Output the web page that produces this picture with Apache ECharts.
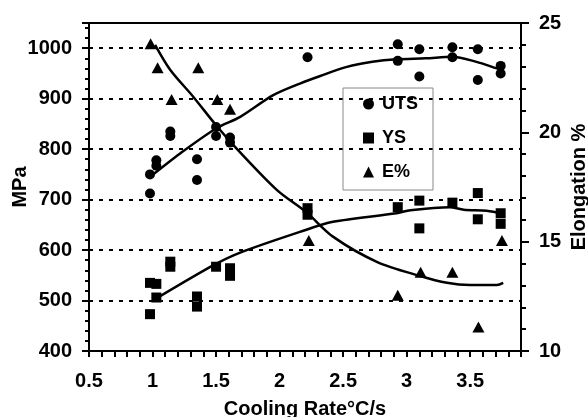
<!DOCTYPE html>
<html>
<head>
<meta charset="utf-8">
<script src="https://cdn.jsdelivr.net/npm/echarts@6/dist/echarts.min.js"></script>
<style>
html,body{margin:0;padding:0;background:#fff;}
#chart{width:588px;height:417px;}
</style>
</head>
<body>
<div id="chart"></div>
<script>
// Scatter data (cooling rate °C/s vs property)
var utsX = [0.98, 0.98, 1.03, 1.03, 1.14, 1.14, 1.35, 1.35, 1.50, 1.50, 1.61, 1.61, 2.22, 2.93, 2.93, 3.10, 3.10, 3.36, 3.36, 3.56, 3.56, 3.74, 3.74];
var utsY = [712, 750, 778, 767, 835, 826, 780, 739, 844, 826, 823, 813, 982, 1008, 975, 998, 944, 1002, 982, 998, 937, 965, 950];

var ysX = [0.98, 0.98, 1.03, 1.03, 1.14, 1.14, 1.35, 1.35, 1.50, 1.61, 1.61, 2.22, 2.22, 2.93, 3.10, 3.10, 3.36, 3.56, 3.56, 3.74, 3.74];
var ysY = [535, 473, 533, 506, 577, 567, 508, 488, 567, 564, 549, 683, 670, 685, 698, 643, 694, 713, 661, 673, 652];

var eX = [0.985, 1.04, 1.36, 1.15, 1.51, 1.61, 2.23, 2.93, 3.11, 3.36, 3.565, 3.75];
var eY = [24.05, 22.95, 22.95, 21.5, 21.5, 21.05, 15.05, 12.55, 13.6, 13.6, 11.1, 15.05];

// Fitted trend curves
var utsFitX = [0.98, 1.22, 1.50, 1.69, 1.95, 2.16, 2.32, 2.53, 2.73, 2.92, 3.15, 3.36, 3.55, 3.71, 3.75];
var utsFitY = [745, 792, 841, 864, 907, 930, 945, 963, 973, 978, 980, 983, 973, 960, 957];

var ysFitX = [1.03, 1.48, 1.69, 2.16, 2.42, 2.92, 3.03, 3.34, 3.45, 3.63, 3.76];
var ysFitY = [504, 570, 595, 636, 656, 673, 679, 685, 680, 678, 672];

var eFitX = [1.02, 1.14, 1.32, 1.505, 1.66, 1.98, 2.21, 2.42, 2.765, 3.106, 3.317, 3.5, 3.71, 3.76];
var eFitY = [24.0, 22.85, 21.63, 20.29, 19.27, 17.36, 16.35, 15.23, 14.08, 13.43, 13.12, 13.02, 13.02, 13.12];

// Axis labels
var xName = 'Cooling Rate°C/s';
var yLeftName = 'MPa';
var yRightName = 'Elongation %';
var legendNames = ['UTS', 'YS', 'E%'];

function pairs(xs, ys) { return xs.map(function (x, i) { return [x, ys[i]]; }); }

var FONT = '"Liberation Sans", Arial, sans-serif';
var labelStyle = { color: '#000', fontWeight: 'bold', fontSize: 20, fontFamily: FONT };

var chart = echarts.init(document.getElementById('chart'), null, { renderer: 'canvas' });
chart.setOption({
  animation: false,
  backgroundColor: '#fff',
  grid: { left: 89, right: 67, top: 23, bottom: 66, outerBoundsMode: 'none', containLabel: false, show: true, borderColor: '#000', borderWidth: 2, backgroundColor: 'transparent' },
  legend: {
    data: legendNames,
    orient: 'vertical',
    left: 343, top: 88,
    itemWidth: 11, itemHeight: 11, itemGap: 16,
    padding: [7, 15, 9, 20],
    borderColor: '#888', borderWidth: 1,
    textStyle: { color: '#000', fontWeight: 'bold', fontSize: 18, fontFamily: FONT, padding: [0, 0, 0, 3] }
  },
  xAxis: [{
    type: 'value', min: 0.5, max: 3.9, interval: 0.1, position: 'bottom',
    name: xName, nameLocation: 'middle', nameGap: 48, nameMoveOverlap: false,
    nameTextStyle: labelStyle,
    axisLine: { lineStyle: { color: '#000', width: 2 } },
    axisTick: { show: true, length: 6, lineStyle: { color: '#000', width: 2 } },
    axisLabel: Object.assign({ margin: 20, formatter: function (v) {
      var d = v * 2; return Math.abs(d - Math.round(d)) < 1e-6 ? String(+v.toFixed(1)) : '';
    } }, labelStyle),
    splitLine: { show: false }
  }],
  yAxis: [{
    type: 'value', min: 400, max: 1050, interval: 100, position: 'left',
    name: yLeftName, nameLocation: 'middle', nameRotate: 90, nameGap: 59, nameMoveOverlap: false,
    nameTextStyle: labelStyle,
    axisLine: { show: true, lineStyle: { color: '#000', width: 2 } },
    axisTick: { show: true, length: 7, lineStyle: { color: '#000', width: 2 } },
    axisLabel: Object.assign({ margin: 17, formatter: function (v) { return v % 100 === 0 ? String(v) : ''; } }, labelStyle),
    splitLine: { show: true, lineStyle: { color: '#000', width: 2, type: [4, 6] } }
  }, {
    type: 'value', min: 10, max: 25, interval: 5, position: 'right',
    name: yRightName, nameLocation: 'middle', nameRotate: 90, nameGap: 48, nameMoveOverlap: false,
    nameTextStyle: labelStyle,
    axisLine: { show: true, lineStyle: { color: '#000', width: 2 } },
    axisTick: { show: true, length: 8, lineStyle: { color: '#000', width: 2 } },
    minorTick: { show: true, splitNumber: 5, length: 5, lineStyle: { color: '#000', width: 2 } },
    axisLabel: Object.assign({ margin: 18 }, labelStyle),
    splitLine: { show: false }
  }, {
    type: 'value', min: 400, max: 1050, interval: 20, position: 'left',
    axisLine: { show: false },
    axisTick: { show: true, length: 4, lineStyle: { color: '#000', width: 2 } },
    axisLabel: { show: false },
    splitLine: { show: false }
  }],
  series: [
    { name: 'UTS', type: 'scatter', yAxisIndex: 0, symbol: 'circle', symbolSize: 10, itemStyle: { color: '#000', opacity: 1 }, data: pairs(utsX, utsY), z: 5 },
    { name: 'YS', type: 'scatter', yAxisIndex: 0, symbol: 'rect', symbolSize: 10, itemStyle: { color: '#000', opacity: 1 }, data: pairs(ysX, ysY), z: 5 },
    { name: 'E%', type: 'scatter', yAxisIndex: 1, symbol: 'triangle', symbolSize: [12, 11], itemStyle: { color: '#000', opacity: 1 }, data: pairs(eX, eY), z: 5 },
    { name: 'UTS fit', type: 'line', yAxisIndex: 0, smooth: 0.3, showSymbol: false, lineStyle: { color: '#000', width: 2.5 }, itemStyle: { color: '#000' }, data: pairs(utsFitX, utsFitY), z: 4 },
    { name: 'YS fit', type: 'line', yAxisIndex: 0, smooth: 0.3, showSymbol: false, lineStyle: { color: '#000', width: 2.5 }, itemStyle: { color: '#000' }, data: pairs(ysFitX, ysFitY), z: 4 },
    { name: 'E% fit', type: 'line', yAxisIndex: 1, smooth: 0.3, showSymbol: false, lineStyle: { color: '#000', width: 2.5 }, itemStyle: { color: '#000' }, data: pairs(eFitX, eFitY), z: 4 }
  ]
});
</script>
</body>
</html>
